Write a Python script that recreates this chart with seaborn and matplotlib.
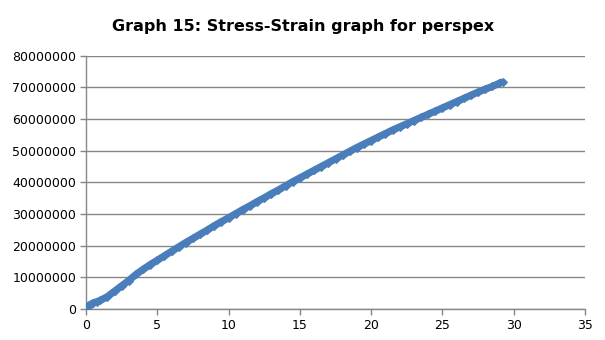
import matplotlib
matplotlib.use("Agg")
import matplotlib.pyplot as plt
import seaborn as sns
import pandas as pd

strain = [0, 0.25, 0.5, 0.75, 1.0, 1.5, 2.0, 2.5, 3.0, 3.5, 4.0, 4.5, 5.0, 5.5,
          6.0, 6.5, 7.0, 7.5, 8.0, 8.5, 9.0, 9.5, 10.0, 10.5, 11.0, 11.5, 12.0,
          12.5, 13.0, 13.5, 14.0, 14.5, 15.0, 15.5, 16.0, 16.5, 17.0, 17.5, 18.0,
          18.5, 19.0, 19.5, 20.0, 20.5, 21.0, 21.5, 22.0, 22.5, 23.0, 23.5, 24.0,
          24.5, 25.0, 25.5, 26.0, 26.5, 27.0, 27.5, 28.0, 28.5, 29.0, 29.25]
stress_m = [0.3, 1.3, 1.9, 2.3, 2.7, 3.9, 5.6, 7.3, 9.0, 10.9, 12.5, 14.0, 15.4, 16.8,
            18.2, 19.6, 21.0, 22.3, 23.6, 24.9, 26.3, 27.6, 28.8, 30.1, 31.4, 32.6, 33.9,
            35.1, 36.4, 37.6, 38.9, 40.2, 41.4, 42.6, 43.8, 45.0, 46.2, 47.4, 48.6,
            49.8, 51.0, 52.1, 53.2, 54.3, 55.4, 56.5, 57.5, 58.5, 59.5, 60.5, 61.5,
            62.5, 63.5, 64.5, 65.5, 66.5, 67.5, 68.5, 69.4, 70.3, 71.3, 71.8]
stress = [v * 1e6 for v in stress_m]

x_ticks = [0, 5, 10, 15, 20, 25, 30, 35]
y_ticks = [0, 10000000, 20000000, 30000000, 40000000, 50000000, 60000000, 70000000, 80000000]
title = "Graph 15: Stress-Strain graph for perspex"

df = pd.DataFrame({"strain": strain, "stress": stress})

sns.set_style("white")
plt.rcParams['font.family'] = ['DejaVu Sans']
plt.rcParams['text.color'] = 'black'

fig = plt.figure(figsize=(6.05, 3.4), dpi=100)
ax = fig.add_axes([86/605, 31/340, 499/605, 253.3/340])

color = "#4A7EBB"
sns.lineplot(data=df, x="strain", y="stress", ax=ax, color=color, linewidth=5.2,
             marker="D", markersize=3.8, markeredgecolor=color, markerfacecolor=color,
             solid_capstyle="butt", zorder=3)

ax.set_xlim(0, 35)
ax.set_ylim(0, 80000000)
ax.set_xticks(x_ticks)
ax.set_yticks(y_ticks)
ax.set_xticklabels([str(t) for t in x_ticks], fontsize=9)
ax.set_yticklabels([str(t) for t in y_ticks], fontsize=9)
ax.set_xlabel("")
ax.set_ylabel("")

ax.yaxis.grid(True, color="#868686", linewidth=1)
ax.xaxis.grid(False)
ax.set_axisbelow(True)
for s in ["top", "right"]:
    ax.spines[s].set_visible(False)
for s in ["left", "bottom"]:
    ax.spines[s].set_color("#868686")
    ax.spines[s].set_linewidth(1)
ax.tick_params(axis="both", direction="out", length=4, width=1, color="#868686",
               labelcolor="black", pad=3)
ax.tick_params(axis="x", bottom=True)
ax.tick_params(axis="y", left=True)

fig.text(303/605, 1 - 26/340, title, ha="center", va="center", fontsize=11.5,
         fontweight="bold", color="black")

fig.savefig("out.png", dpi=100)
